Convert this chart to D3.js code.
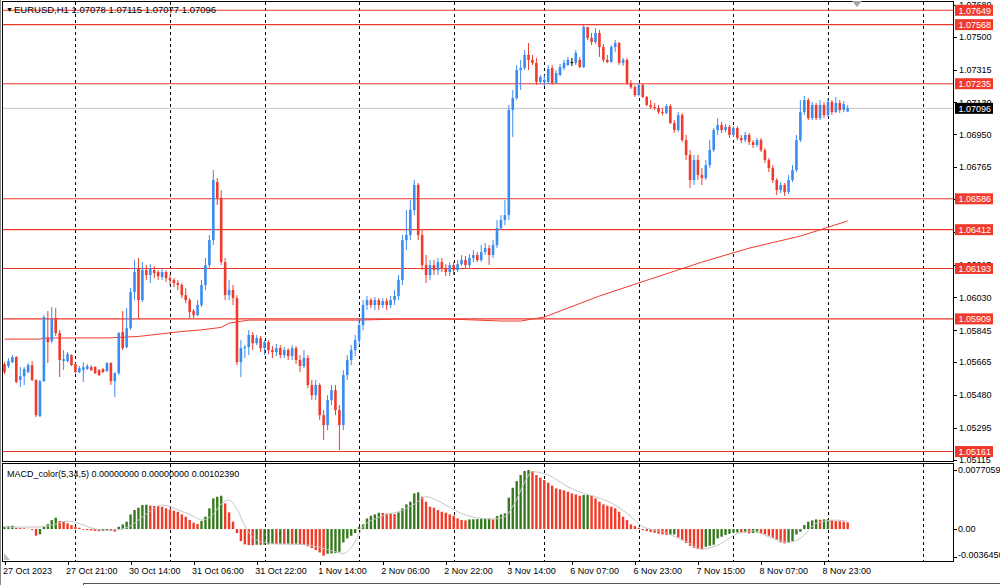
<!DOCTYPE html>
<html><head><meta charset="utf-8">
<script src="https://cdn.jsdelivr.net/npm/d3@7"></script>
<style>
html,body{margin:0;padding:0;background:#fff;}
svg{display:block;}
text{font-family:"Liberation Sans",Arial,sans-serif;font-size:9px;}
</style></head><body>
<svg id="c" width="1000" height="585"></svg>
<script>
// ---------------- DATA ----------------
const symbolTitle = "EURUSD,H1";
const headerValues = ["1.07078", "1.07115", "1.07077", "1.07096"];
const macdTitle = "MACD_color(5,34,5) 0.00000000 0.00000000 0.00102390";

const open = [1.05654,1.05643,1.05665,1.05694,1.05564,1.05586,1.05609,1.05648,1.05564,1.05361,
1.05558,1.05801,1.05784,1.05913,1.05829,1.05671,1.05671,1.05705,1.05654,1.05609,
1.05620,1.05626,1.05637,1.05637,1.05620,1.05626,1.05615,1.05660,1.05558,1.05603,
1.05835,1.05750,1.05857,1.06060,1.06195,1.06015,1.06184,1.06156,1.06184,1.06173,
1.06145,1.06173,1.06139,1.06128,1.06111,1.06100,1.06043,1.06015,1.05953,1.05930,
1.05987,1.06100,1.06212,1.06353,1.06681,1.06590,1.06229,1.06043,1.06072,1.06026,
1.05665,1.05744,1.05750,1.05818,1.05772,1.05801,1.05744,1.05778,1.05733,1.05722,
1.05744,1.05705,1.05733,1.05699,1.05744,1.05677,1.05643,1.05688,1.05536,1.05479,
1.05536,1.05366,1.05310,1.05451,1.05507,1.05395,1.05310,1.05592,1.05677,1.05733,
1.05789,1.05874,1.05987,1.06015,1.05987,1.06015,1.05987,1.06009,1.05987,1.06015,
1.06038,1.06128,1.06353,1.06382,1.06523,1.06664,1.06382,1.06212,1.06156,1.06212,
1.06184,1.06229,1.06195,1.06173,1.06212,1.06184,1.06218,1.06241,1.06212,1.06252,
1.06269,1.06241,1.06286,1.06308,1.06269,1.06325,1.06421,1.06466,1.06494,1.07087,
1.07154,1.07312,1.07323,1.07397,1.07369,1.07352,1.07245,1.07245,1.07245,1.07323,
1.07239,1.07284,1.07323,1.07340,1.07357,1.07352,1.07369,1.07329,1.07555,1.07493,
1.07470,1.07521,1.07442,1.07369,1.07357,1.07442,1.07464,1.07352,1.07369,1.07239,
1.07216,1.07171,1.07228,1.07160,1.07115,1.07104,1.07098,1.07075,1.07070,1.07109,
1.07013,1.06974,1.07058,1.06917,1.06833,1.06692,1.06805,1.06720,1.06703,1.06776,
1.06861,1.06974,1.07002,1.06974,1.06991,1.06946,1.06985,1.06929,1.06917,1.06946,
1.06906,1.06889,1.06917,1.06861,1.06805,1.06759,1.06692,1.06635,1.06664,1.06624,
1.06692,1.06748,1.06917,1.07075,1.07143,1.07041,1.07115,1.07041,1.07115,1.07058,
1.07132,1.07075,1.07126,1.07087,1.07078];
const high = [1.05665,1.05688,1.05705,1.05699,1.05637,1.05637,1.05660,1.05671,1.05569,1.05564,
1.05930,1.05953,1.05976,1.05970,1.05846,1.05733,1.05722,1.05710,1.05660,1.05643,
1.05665,1.05654,1.05648,1.05643,1.05626,1.05631,1.05665,1.05665,1.05609,1.05835,
1.05953,1.05970,1.06083,1.06241,1.06252,1.06229,1.06212,1.06218,1.06207,1.06184,
1.06195,1.06184,1.06156,1.06139,1.06128,1.06111,1.06083,1.06026,1.05964,1.06015,
1.06128,1.06252,1.06382,1.06748,1.06703,1.06635,1.06252,1.06128,1.06100,1.06043,
1.05789,1.05761,1.05846,1.05835,1.05818,1.05812,1.05789,1.05789,1.05756,1.05767,
1.05761,1.05750,1.05744,1.05761,1.05756,1.05705,1.05733,1.05705,1.05564,1.05564,
1.05547,1.05395,1.05479,1.05536,1.05536,1.05423,1.05620,1.05705,1.05761,1.05818,
1.05913,1.06015,1.06038,1.06026,1.06032,1.06026,1.06026,1.06026,1.06038,1.06071,
1.06156,1.06382,1.06523,1.06579,1.06692,1.06675,1.06410,1.06269,1.06241,1.06241,
1.06252,1.06252,1.06218,1.06229,1.06229,1.06241,1.06269,1.06263,1.06274,1.06297,
1.06286,1.06325,1.06336,1.06325,1.06353,1.06466,1.06494,1.06579,1.07115,1.07199,
1.07340,1.07369,1.07425,1.07464,1.07397,1.07380,1.07284,1.07284,1.07340,1.07340,
1.07312,1.07346,1.07369,1.07386,1.07380,1.07425,1.07386,1.07566,1.07555,1.07521,
1.07549,1.07538,1.07459,1.07397,1.07453,1.07481,1.07470,1.07380,1.07380,1.07256,
1.07228,1.07239,1.07233,1.07166,1.07143,1.07126,1.07115,1.07098,1.07120,1.07120,
1.07030,1.07075,1.07070,1.06946,1.06861,1.06833,1.06833,1.06759,1.06805,1.06917,
1.06985,1.07041,1.07019,1.07008,1.07002,1.06996,1.06996,1.06946,1.06963,1.06957,
1.06917,1.06929,1.06929,1.06872,1.06816,1.06776,1.06703,1.06681,1.06675,1.06720,
1.06776,1.06946,1.07143,1.07166,1.07154,1.07132,1.07126,1.07143,1.07132,1.07154,
1.07143,1.07160,1.07143,1.07137,1.07115];
const low = [1.05598,1.05631,1.05660,1.05547,1.05524,1.05536,1.05603,1.05558,1.05355,1.05355,
1.05553,1.05660,1.05772,1.05812,1.05581,1.05620,1.05665,1.05643,1.05603,1.05603,
1.05553,1.05620,1.05615,1.05598,1.05586,1.05603,1.05609,1.05536,1.05468,1.05592,
1.05733,1.05744,1.05846,1.06015,1.05913,1.06004,1.06128,1.06111,1.06139,1.06128,
1.06128,1.06117,1.06100,1.06088,1.06071,1.06026,1.05998,1.05913,1.05913,1.05925,
1.05976,1.06071,1.06195,1.06325,1.06551,1.06212,1.06015,1.06015,1.05987,1.05648,
1.05581,1.05688,1.05705,1.05733,1.05761,1.05722,1.05705,1.05710,1.05688,1.05699,
1.05688,1.05688,1.05677,1.05677,1.05654,1.05609,1.05631,1.05519,1.05451,1.05451,
1.05338,1.05225,1.05282,1.05423,1.05366,1.05169,1.05282,1.05564,1.05648,1.05699,
1.05761,1.05846,1.05959,1.05970,1.05959,1.05959,1.05970,1.05959,1.05970,1.05987,
1.06015,1.06100,1.06297,1.06353,1.06494,1.06353,1.06184,1.06111,1.06128,1.06156,
1.06156,1.06173,1.06150,1.06150,1.06156,1.06173,1.06207,1.06195,1.06195,1.06229,
1.06229,1.06229,1.06269,1.06213,1.06252,1.06308,1.06410,1.06438,1.06466,1.06934,
1.07143,1.07199,1.07312,1.07312,1.07340,1.07228,1.07233,1.07222,1.07233,1.07228,
1.07233,1.07278,1.07312,1.07335,1.07335,1.07340,1.07323,1.07323,1.07481,1.07453,
1.07459,1.07386,1.07357,1.07352,1.07352,1.07414,1.07340,1.07335,1.07228,1.07205,
1.07160,1.07166,1.07154,1.07109,1.07092,1.07087,1.07064,1.07058,1.07064,1.07008,
1.06957,1.06963,1.06906,1.06805,1.06647,1.06664,1.06692,1.06664,1.06692,1.06759,
1.06850,1.06946,1.06957,1.06963,1.06929,1.06934,1.06917,1.06900,1.06906,1.06889,
1.06872,1.06878,1.06850,1.06788,1.06737,1.06675,1.06607,1.06618,1.06602,1.06613,
1.06681,1.06737,1.06906,1.07058,1.07030,1.07030,1.07030,1.07030,1.07041,1.07047,
1.07058,1.07070,1.07070,1.07075,1.07077];
const close = [1.05609,1.05671,1.05694,1.05553,1.05586,1.05626,1.05648,1.05564,1.05366,1.05558,
1.05919,1.05778,1.05908,1.05829,1.05677,1.05682,1.05710,1.05648,1.05609,1.05631,
1.05637,1.05643,1.05620,1.05603,1.05592,1.05609,1.05660,1.05558,1.05603,1.05829,
1.05744,1.05857,1.06060,1.06173,1.06015,1.06184,1.06156,1.06195,1.06167,1.06150,
1.06173,1.06139,1.06128,1.06111,1.06100,1.06043,1.06015,1.05947,1.05930,1.05987,
1.06100,1.06212,1.06353,1.06692,1.06590,1.06229,1.06043,1.06072,1.06026,1.05665,
1.05744,1.05750,1.05818,1.05772,1.05801,1.05744,1.05778,1.05733,1.05722,1.05744,
1.05705,1.05733,1.05699,1.05744,1.05677,1.05643,1.05688,1.05536,1.05479,1.05536,
1.05366,1.05310,1.05451,1.05507,1.05395,1.05310,1.05592,1.05677,1.05733,1.05789,
1.05874,1.05987,1.06015,1.05987,1.06015,1.05987,1.06009,1.05987,1.06015,1.06038,
1.06128,1.06353,1.06382,1.06523,1.06664,1.06382,1.06212,1.06156,1.06212,1.06184,
1.06229,1.06195,1.06173,1.06212,1.06184,1.06218,1.06241,1.06212,1.06252,1.06269,
1.06241,1.06286,1.06308,1.06269,1.06325,1.06421,1.06466,1.06494,1.07087,1.07154,
1.07312,1.07323,1.07397,1.07369,1.07352,1.07245,1.07273,1.07256,1.07318,1.07239,
1.07295,1.07329,1.07352,1.07369,1.07357,1.07408,1.07329,1.07555,1.07493,1.07470,
1.07521,1.07442,1.07369,1.07357,1.07442,1.07464,1.07352,1.07369,1.07239,1.07216,
1.07171,1.07228,1.07160,1.07115,1.07104,1.07098,1.07075,1.07070,1.07109,1.07013,
1.06974,1.07058,1.06917,1.06833,1.06692,1.06805,1.06720,1.06703,1.06776,1.06861,
1.06974,1.07002,1.06974,1.06991,1.06946,1.06985,1.06929,1.06917,1.06946,1.06906,
1.06889,1.06917,1.06861,1.06805,1.06759,1.06692,1.06635,1.06664,1.06624,1.06692,
1.06748,1.06917,1.07075,1.07143,1.07041,1.07115,1.07041,1.07115,1.07058,1.07132,
1.07075,1.07126,1.07087,1.07120,1.07096];

// moving average (sampled along the bars)
const maBars   = [0, 9, 10, 27, 34, 40, 45, 50, 55, 57, 62, 75, 90, 100, 113, 126, 131, 137, 151, 164, 177, 189, 202, 214];
const maValues = [1.05795,1.05795,1.05801,1.05802,1.05810,1.05825,1.05838,1.05847,1.05861,1.05885,1.05902,1.05902,1.05902,1.05908,1.05908,1.05897,1.05897,1.05919,1.06038,1.06134,1.06229,1.06308,1.06376,1.06461];

// horizontal levels
const levels = [1.07649, 1.07568, 1.07235, 1.06586, 1.06412, 1.06193, 1.05909, 1.05161];
const lastPrice = 1.07096;

// price axis ticks
const priceTicks = [1.07680, 1.07500, 1.07315, 1.07130, 1.06950, 1.06765, 1.06585, 1.06400, 1.06215, 1.06030, 1.05845, 1.05665, 1.05480, 1.05295, 1.05115];

// time axis
const timeLabels = ["27 Oct 2023","27 Oct 21:00","30 Oct 14:00","31 Oct 06:00","31 Oct 22:00","1 Nov 14:00","2 Nov 06:00","2 Nov 22:00","3 Nov 14:00","6 Nov 07:00","6 Nov 23:00","7 Nov 15:00","8 Nov 07:00","8 Nov 23:00"];
const timeLabelBars = [0,16,32,48,64,80,96,112,128,144,160,176,192,208];
const gridBars = [18, 42, 66, 90, 114, 137, 161, 185, 209, 233];

// MACD histogram
const macdHist = [0.0003,0.00039,0.00044,0.00017,0.00013,0.00009,0.00004,-0.00013,-0.00087,-0.0007,
0.0003,0.00065,0.00117,0.00148,0.00104,0.00096,0.00074,0.00052,0.0003,0.00017,
-0.00009,-0.00013,-0.00017,-0.00026,-0.00028,-0.00026,-0.00022,-0.00026,-0.00035,0.0003,
0.00061,0.00096,0.00191,0.00248,0.00278,0.00313,0.00318,0.00305,0.00302,0.003,
0.00291,0.0027,0.00257,0.00239,0.00226,0.00191,0.00161,0.00117,0.00083,0.00065,
0.00104,0.00161,0.0027,0.004,0.00422,0.00435,0.00335,0.00218,0.00096,-0.00052,
-0.00157,-0.002,-0.00209,-0.00211,-0.00204,-0.00207,-0.00204,-0.002,-0.00196,-0.00197,
-0.00191,-0.00194,-0.00191,-0.00196,-0.00191,-0.002,-0.00209,-0.00226,-0.00248,-0.00274,
-0.00305,-0.00348,-0.00322,-0.00318,-0.00313,-0.00296,-0.00174,-0.00122,-0.00087,-0.00052,
0.0003,0.00061,0.00139,0.00174,0.00191,0.00213,0.00209,0.00204,0.002,0.00196,
0.00218,0.0027,0.00322,0.00357,0.00465,0.00479,0.00422,0.00357,0.00291,0.00278,
0.00248,0.00226,0.00213,0.00191,0.00174,0.00139,0.00117,0.00113,0.00126,0.00128,
0.0013,0.00133,0.00135,0.00137,0.00126,0.0017,0.00191,0.00204,0.00409,0.00539,
0.00626,0.00705,0.00757,0.0077,0.00757,0.00705,0.0067,0.00639,0.00605,0.00566,
0.00531,0.00518,0.00505,0.00487,0.00465,0.00452,0.00435,0.00444,0.00444,0.00435,
0.004,0.00357,0.00322,0.00305,0.00291,0.0027,0.00226,0.00161,0.00117,0.00061,
0.00039,0.00017,-0.00013,-0.00026,-0.00039,-0.00048,-0.00061,-0.0007,-0.00078,-0.00074,
-0.0007,-0.00109,-0.00144,-0.00183,-0.00218,-0.00244,-0.00261,-0.00265,-0.00231,-0.00218,
-0.00204,-0.00122,-0.001,-0.00078,-0.00061,-0.00044,-0.00043,-0.00052,-0.00044,-0.00057,
-0.00052,-0.00044,-0.00061,-0.0007,-0.00087,-0.00113,-0.00144,-0.00174,-0.00187,-0.00174,
-0.00157,-0.0007,-0.00035,0.00052,0.00096,0.00113,0.00126,0.00122,0.00126,0.0013,
0.00117,0.00104,0.00102,0.00096,0.00087];
// MACD signal line (sampled)
const sigBars = [0,8,12,16,20,23,26,29,32,36,40,44,48,50,53,55,57,59,61,63,66,70,75,80,84,86,88,90,91,94,97,100,104,107,110,113,116,121,124,127,130,132,134,138,143,147,150,155,159,162,167,173,177,182,186,190,194,199,202,206,211,214];
const sigValues = [0.00026,0.00026,0.00052,0.00104,0.00052,0,-0.00017,-0.00009,0.00044,0.00196,0.00313,0.00252,0.00165,0.00117,0.00196,0.00326,0.00378,0.00261,0.00044,-0.00109,-0.00174,-0.00196,-0.002,-0.00239,-0.00296,-0.00318,-0.00239,-0.00065,0.0003,0.00131,0.00191,0.00226,0.00326,0.00422,0.0037,0.00283,0.00204,0.00139,0.00131,0.00165,0.00392,0.00609,0.00748,0.00705,0.00552,0.00465,0.00422,0.00313,0.00161,0.0003,-0.00035,-0.00165,-0.00261,-0.00187,-0.00057,-0.00026,-0.001,-0.00174,-0.00122,0.00074,0.00117,0.00102];
const macdTicks = [0.0077059, 0, -0.003645];
const macdTickLabels = ["0.0077059", "0.00", "-0.0036450"];

// ---------------- DRAW ----------------
const BLUE = "#3a8cf2", RED = "#f03b2c", GREEN = "#357a1e", MRED = "#f23a28";
const svg = d3.select("#c");
const PL = 3, PR = 953, MT = 2, MB = 461, ST = 464, SB = 561;

const x = d3.scaleLinear().domain([0, 214]).range([4.5, 4.5 + 214 * 3.94]);
const yP = d3.scaleLinear().domain([1.05115, 1.07500]).range([459.7, 36.7]);
const yM = d3.scaleLinear().domain([-0.003645, 0.0077059]).range([557, 470]);

const defs = svg.append("defs");
defs.append("clipPath").attr("id", "cm").append("rect").attr("x", PL).attr("y", MT).attr("width", PR - PL).attr("height", MB - MT);
defs.append("clipPath").attr("id", "cs").append("rect").attr("x", PL).attr("y", ST).attr("width", PR - PL).attr("height", SB - ST);

svg.append("rect").attr("width", 1000).attr("height", 585).attr("fill", "#fff");

// grid (dashed verticals) in both panels
const grid = svg.append("g");
[[MT, MB], [ST, SB]].forEach(([a, b]) => {
  grid.selectAll(null).data(gridBars).join("line")
    .attr("x1", d => Math.round(x(d)) + 0.5).attr("x2", d => Math.round(x(d)) + 0.5)
    .attr("y1", a).attr("y2", b)
    .attr("stroke", "#000").attr("stroke-width", 1).attr("stroke-dasharray", "3,3");
});

const main = svg.append("g").attr("clip-path", "url(#cm)");
// current price line
main.append("line").attr("x1", PL).attr("x2", PR)
  .attr("y1", yP(lastPrice)).attr("y2", yP(lastPrice)).attr("stroke", "#c4c4c4").attr("stroke-width", 1);
// levels
main.selectAll(".lvl").data(levels).join("line")
  .attr("x1", PL).attr("x2", PR).attr("y1", d => yP(d)).attr("y2", d => yP(d))
  .attr("stroke", RED).attr("stroke-width", 1.1);
// MA
main.append("path").datum(maBars.map((b, i) => [b, maValues[i]]))
  .attr("d", d3.line().x(d => x(d[0])).y(d => yP(d[1])))
  .attr("fill", "none").attr("stroke", RED).attr("stroke-width", 1);

// candles
const bars = close.map((c, i) => ({ i, o: open[i], h: high[i], l: low[i], c }));
const col = d => d.c > d.o ? BLUE : (d.c < d.o ? RED : "#000");
main.selectAll(".wick").data(bars).join("line")
  .attr("x1", d => x(d.i)).attr("x2", d => x(d.i))
  .attr("y1", d => yP(d.h)).attr("y2", d => yP(d.l))
  .attr("stroke", col).attr("stroke-width", 1);
main.selectAll(".body").data(bars).join("rect")
  .attr("x", d => x(d.i) - 1.3).attr("width", 2.6)
  .attr("y", d => yP(Math.max(d.o, d.c)))
  .attr("height", d => Math.max(1, Math.abs(yP(d.o) - yP(d.c))))
  .attr("fill", col);

// MACD panel
const sub = svg.append("g").attr("clip-path", "url(#cs)");
sub.selectAll(".hb").data(macdHist).join("rect")
  .attr("x", (d, i) => x(i) - 1.2).attr("width", 2.4)
  .attr("y", d => Math.min(yM(d), yM(0)))
  .attr("height", d => Math.abs(yM(d) - yM(0)))
  .attr("fill", (d, i) => (i === 0 || d >= macdHist[i - 1]) ? GREEN : MRED);
sub.append("path").datum(sigBars.map((b, i) => [b, sigValues[i]]))
  .attr("d", d3.line().curve(d3.curveMonotoneX).x(d => x(d[0])).y(d => yM(d[1])))
  .attr("fill", "none").attr("stroke", "#c6c6c6").attr("stroke-width", 1);

// frames
const fr = svg.append("g").attr("fill", "none").attr("stroke", "#000").attr("stroke-width", 1);
fr.append("rect").attr("x", PL - 0.5).attr("y", MT - 0.5).attr("width", PR - PL + 1).attr("height", MB - MT + 1);
fr.append("rect").attr("x", PL - 0.5).attr("y", ST - 0.5).attr("width", PR - PL + 1).attr("height", SB - ST + 1);
svg.append("line").attr("x1", 0.5).attr("x2", 0.5).attr("y1", 0).attr("y2", 585).attr("stroke", "#888");
svg.append("line").attr("x1", 83).attr("x2", 1000).attr("y1", 583.5).attr("y2", 583.5).attr("stroke", "#555");
svg.append("line").attr("x1", 83.5).attr("x2", 83.5).attr("y1", 583).attr("y2", 585).attr("stroke", "#555");

// shift marker and small corner triangle
svg.append("path").attr("d", "M852,1L862,1L857,7Z").attr("fill", "#a8a8a8");
svg.append("path").attr("d", "M4,553L4,560L10,560Z").attr("fill", "#bdbdbd");

// price axis
const pa = svg.append("g");
pa.selectAll(".pt").data(priceTicks).join("line")
  .attr("x1", PR).attr("x2", PR + 4).attr("y1", d => Math.round(yP(d)) + 0.5).attr("y2", d => Math.round(yP(d)) + 0.5)
  .attr("stroke", "#000");
pa.selectAll(".ptl").data(priceTicks).join("text")
  .attr("x", 959).attr("y", d => yP(d) + 3.3).attr("fill", "#000")
  .text(d => d.toFixed(5));

// level labels
const lab = svg.append("g");
const lvlAll = levels.map(v => ({ v, fill: RED })).concat([{ v: lastPrice, fill: "#000" }]);
lab.selectAll("rect").data(lvlAll).join("rect")
  .attr("x", 955).attr("width", 38).attr("y", d => yP(d.v) - 5.5).attr("height", 11).attr("fill", d => d.fill);
lab.selectAll("text").data(lvlAll).join("text")
  .attr("x", 958.5).attr("y", d => yP(d.v) + 3.4).attr("fill", "#fff").text(d => d.v.toFixed(5));

// MACD axis
svg.selectAll(".mt").data(macdTicks).join("line")
  .attr("x1", PR).attr("x2", PR + 4).attr("y1", d => Math.round(yM(d)) + 0.5).attr("y2", d => Math.round(yM(d)) + 0.5).attr("stroke", "#000");
svg.selectAll(".mtl").data(macdTicks).join("text")
  .attr("x", 958).attr("y", (d, i) => Math.min(yM(d), 555) + 3.3).attr("fill", "#000")
  .text((d, i) => macdTickLabels[i]);

// time axis
svg.selectAll(".tt").data(timeLabelBars).join("line")
  .attr("x1", d => Math.round(x(d)) + 0.5).attr("x2", d => Math.round(x(d)) + 0.5)
  .attr("y1", SB).attr("y2", SB + 4).attr("stroke", "#000");
svg.selectAll(".ttl").data(timeLabelBars).join("text")
  .attr("x", d => x(d) - 1.5).attr("y", 574).attr("fill", "#000")
  .text((d, i) => timeLabels[i]);

// headers
svg.append("text").attr("x", 6).attr("y", 12).style("font-size", "7px").attr("fill", "#000").text("▼");
svg.append("text").attr("x", 14).attr("y", 12.5).style("font-size", "9.5px").attr("fill", "#000")
  .text(symbolTitle + "  " + headerValues.join(" "));
svg.append("text").attr("x", 7).attr("y", 476.5).attr("fill", "#000").text(macdTitle);
</script>
</body></html>
